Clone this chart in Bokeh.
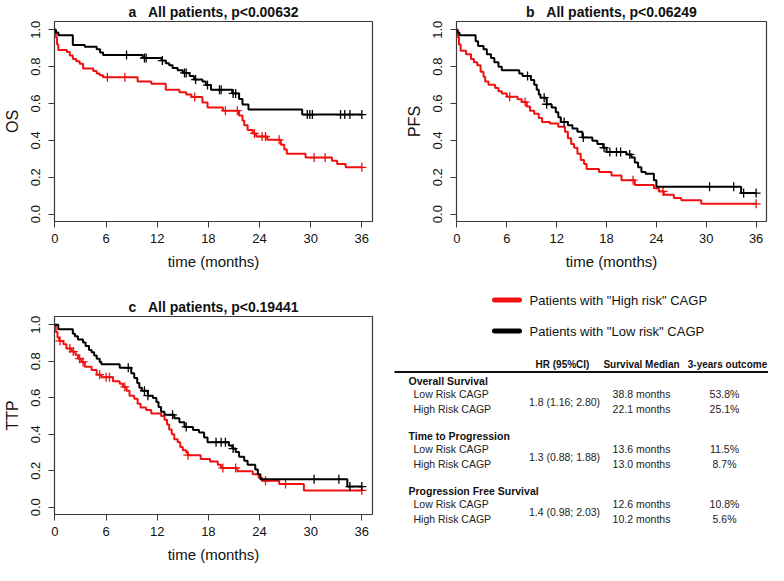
import numpy as np
from bokeh.plotting import figure
from bokeh.layouts import column, row
from bokeh.models import Range1d, FixedTicker
from bokeh.core.properties import value
from bokeh.embed import file_html
from bokeh.resources import INLINE

FONT = "Liberation Sans"
RED = "#f01010"
BLACK = "#000000"
BOX = "#3a3a3a"
NB = "\u00a0"

x_ticks = [0, 6, 12, 18, 24, 30, 36]
y_ticks = [0.0, 0.2, 0.4, 0.6, 0.8, 1.0]
y_tick_labels = ["0.0", "0.2", "0.4", "0.6", "0.8", "1.0"]
t_end = 36.0

# ---------------- (a) Overall survival ----------------
os_low_t = [0, 0.1, 0.4, 2.1, 3.5, 4.9, 5.3, 5.65, 10.3, 12.5, 13.0, 13.4, 13.8, 14.4, 15.0, 15.8,
            16.3, 17.3, 17.7, 18.3, 20.8, 21.6, 22.0, 22.7, 29.0]
os_low_s = [1.0, 0.985, 0.97, 0.917, 0.908, 0.895, 0.877, 0.863, 0.847, 0.833, 0.819, 0.807, 0.793,
            0.78, 0.766, 0.749, 0.73, 0.72, 0.70, 0.675, 0.655, 0.625, 0.595, 0.567, 0.54]
os_low_c = [8.4, 10.5, 10.7, 12.6, 15.2, 15.4, 16.5, 17.9, 19.3, 19.5, 20.9, 21.2, 29.6, 29.9, 30.2,
            33.5, 34.0, 34.6, 36.0]

os_high_t = [0, 0.1, 0.25, 0.4, 1.4, 1.75, 2.1, 2.5, 2.9, 3.3, 4.5, 4.9, 5.25, 5.65, 9.7, 11.3, 13.0,
             14.6, 15.4, 16.0, 17.3, 17.9, 19.7, 21.6, 22.0, 22.2, 22.6, 23.2, 23.6, 24.9, 26.5, 26.9,
             27.2, 29.4, 32.5, 33.1, 34.1]
os_high_s = [1.0, 0.96, 0.92, 0.89, 0.88, 0.86, 0.842, 0.83, 0.816, 0.79, 0.777, 0.763, 0.754, 0.742,
             0.719, 0.707, 0.675, 0.661, 0.649, 0.635, 0.605, 0.579, 0.561, 0.535, 0.508, 0.482, 0.456,
             0.438, 0.421, 0.403, 0.377, 0.351, 0.328, 0.307, 0.289, 0.272, 0.254]
os_high_c = [6.15, 8.2, 16.4, 20.0, 21.4, 23.4, 24.3, 24.7, 26.3, 30.4, 31.7, 36.0]

# ---------------- (b) Progression free survival ----------------
pfs_low_t = [0, 0.05, 0.3, 2.25, 2.55, 3.2, 3.6, 4.1, 4.5, 5.0, 5.4, 7.5, 7.9, 8.9, 9.3, 9.6, 9.85,
             10.05, 10.8, 11.4, 11.9, 12.2, 12.5, 13.35, 13.9, 14.5, 15.1, 16.3, 16.9, 17.6, 18.0,
             20.4, 21.0, 21.4, 21.8, 22.2, 22.7, 23.7, 24.0, 34.2]
pfs_low_s = [1.0, 0.985, 0.97, 0.938, 0.912, 0.895, 0.868, 0.847, 0.824, 0.80, 0.78, 0.763, 0.749,
             0.728, 0.702, 0.675, 0.649, 0.632, 0.596, 0.579, 0.553, 0.526, 0.50, 0.482, 0.465, 0.447,
             0.416, 0.398, 0.38, 0.36, 0.337, 0.324, 0.307, 0.28, 0.254, 0.228, 0.219, 0.184, 0.149,
             0.114]
pfs_low_c = [8.5, 10.5, 10.8, 12.9, 15.2, 17.7, 18.4, 19.2, 19.7, 20.8, 30.4, 33.3, 34.5, 36.0]

pfs_high_t = [0, 0.1, 0.25, 0.45, 1.1, 1.7, 2.05, 2.45, 2.85, 3.2, 3.4, 3.8, 4.6, 5.0, 5.4, 6.0, 7.3,
              7.8, 8.4, 8.8, 9.3, 9.85, 10.25, 11.2, 12.2, 13.0, 13.35, 13.75, 14.1, 14.5, 14.9, 15.3,
              15.6, 17.1, 18.6, 19.8, 21.4, 23.7, 24.3, 24.9, 26.1, 27.0, 29.4]
pfs_high_s = [1.0, 0.96, 0.92, 0.886, 0.868, 0.842, 0.824, 0.807, 0.772, 0.745, 0.719, 0.702, 0.684,
              0.666, 0.654, 0.637, 0.623, 0.608, 0.584, 0.561, 0.544, 0.521, 0.50, 0.491, 0.474, 0.447,
              0.412, 0.38, 0.36, 0.328, 0.293, 0.272, 0.245, 0.228, 0.21, 0.184, 0.158, 0.14, 0.123,
              0.105, 0.087, 0.075, 0.056]
pfs_high_c = [6.35, 8.2, 21.2, 24.8, 36.0]

# ---------------- (c) Time to progression ----------------
ttp_low_t = [0, 0.4, 2.1, 2.35, 2.7, 3.3, 3.6, 4.0, 4.3, 4.6, 4.9, 5.25, 5.45, 7.6, 8.95, 9.3, 9.65,
             9.9, 10.2, 10.9, 11.5, 11.9, 12.15, 12.45, 12.85, 14.0, 14.6, 15.2, 16.2, 16.9, 17.5,
             17.9, 20.4, 20.8, 21.2, 21.6, 22.2, 22.6, 23.5, 23.8, 24.1, 34.3]
ttp_low_s = [1.0, 0.975, 0.95, 0.937, 0.919, 0.902, 0.884, 0.861, 0.849, 0.831, 0.813, 0.796, 0.784,
             0.764, 0.734, 0.708, 0.681, 0.655, 0.638, 0.611, 0.599, 0.576, 0.549, 0.523, 0.506,
             0.488, 0.465, 0.44, 0.423, 0.409, 0.382, 0.356, 0.338, 0.321, 0.303, 0.277, 0.254,
             0.232, 0.206, 0.18, 0.153, 0.113]
ttp_low_c = [8.6, 10.5, 10.9, 13.8, 15.4, 18.9, 19.5, 20.0, 20.9, 30.4, 33.3, 34.6, 36.0]

ttp_high_t = [0, 0.1, 0.3, 0.5, 1.0, 1.35, 1.95, 2.4, 2.7, 3.1, 3.5, 4.3, 4.9, 5.45, 6.8, 7.6, 8.0,
              8.4, 8.75, 9.3, 9.7, 10.05, 10.7, 11.3, 12.45, 12.85, 13.15, 13.4, 13.7, 14.0, 14.4,
              14.7, 15.0, 15.4, 15.6, 17.1, 18.2, 19.1, 19.5, 21.4, 23.2, 23.9, 24.3, 26.3, 29.2]
ttp_high_s = [1.0, 0.96, 0.93, 0.911, 0.893, 0.87, 0.853, 0.835, 0.814, 0.796, 0.77, 0.752, 0.726,
              0.712, 0.69, 0.676, 0.659, 0.638, 0.611, 0.594, 0.567, 0.546, 0.532, 0.514, 0.50, 0.479,
              0.453, 0.426, 0.40, 0.373, 0.356, 0.33, 0.312, 0.30, 0.285, 0.264, 0.25, 0.232, 0.215,
              0.197, 0.18, 0.162, 0.145, 0.127, 0.092]
ttp_high_c = [0.6, 1.75, 2.15, 2.9, 3.3, 5.25, 6.0, 6.4, 8.2, 15.6, 19.7, 21.2, 24.7, 27.05, 36.0]

# ---------------- legend & table ----------------
legend_labels = ['Patients with "High risk" CAGP', 'Patients with "Low risk" CAGP']
legend_colors = [RED, BLACK]

table_headers = ["HR (95%CI)", "Survival Median", "3-years outcome"]
table_sections = ["Overall Survival", "Time to Progression", "Progression Free Survival"]
table_groups = ["Low Risk CAGP", "High Risk CAGP"]
table_hr = ["1.8 (1.16; 2.80)", "1.3 (0.88; 1.88)", "1.4 (0.98; 2.03)"]
table_median = [["38.8 months", "22.1 months"], ["13.6 months", "13.0 months"],
                ["12.6 months", "10.2 months"]]
table_outcome = [["53.8%", "25.1%"], ["11.5%", "8.7%"], ["10.8%", "5.6%"]]

X_RANGE = (-0.05, 37.25)
Y_RANGE = (-0.04, 1.045)


def step_value(t, s, c):
    idx = np.searchsorted(np.asarray(t), np.asarray(c), side="right") - 1
    return np.asarray(s)[idx]


def km_panel(title, ylabel, curves, width, height, left, right, top, bottom):
    p = figure(width=width, height=height, output_backend="svg", toolbar_location=None,
               x_range=Range1d(*X_RANGE), y_range=Range1d(*Y_RANGE),
               min_border_left=left, min_border_right=right, min_border_top=top,
               min_border_bottom=bottom, background_fill_color="white",
               border_fill_color="white")
    p.title.text = title
    p.title.align = "center"
    p.title.text_font = FONT
    p.title.text_font_size = "14px"
    p.title.text_font_style = "bold"
    p.title.text_color = "#111111"
    p.title.standoff = 3
    p.grid.visible = False
    p.outline_line_color = BOX
    p.outline_line_width = 1.2
    p.outline_line_alpha = 1.0
    for ax in (p.xaxis[0], p.yaxis[0]):
        ax.axis_line_color = None
        ax.major_tick_line_color = BOX
        ax.major_tick_line_width = 1
        ax.major_tick_out = 6
        ax.major_tick_in = 0
        ax.minor_tick_line_color = None
        ax.major_label_text_font = FONT
        ax.major_label_text_font_size = "13px"
        ax.major_label_text_color = "#111111"
        ax.axis_label_text_font = FONT
        ax.axis_label_text_font_style = "normal"
        ax.axis_label_text_color = "#111111"
    p.xaxis.ticker = FixedTicker(ticks=x_ticks)
    p.yaxis.ticker = FixedTicker(ticks=y_ticks)
    p.yaxis.major_label_overrides = {v: l for v, l in zip(y_ticks, y_tick_labels)}
    p.yaxis.major_label_orientation = "vertical"
    p.xaxis.axis_label = "time (months)"
    p.xaxis.axis_label_text_font_size = "15px"
    p.xaxis.major_label_standoff = 6
    p.xaxis.axis_label_standoff = 7
    p.yaxis.axis_label = ylabel
    p.yaxis.axis_label_text_font_size = "16px"
    p.yaxis.major_label_standoff = 8
    p.yaxis.axis_label_standoff = 8

    for t, s, cens, color in curves:
        tt = list(t) + [t_end]
        ss = list(s) + [s[-1]]
        p.step(tt, ss, mode="after", line_color=color, line_width=2)
        cy = step_value(t, s, cens)
        p.scatter(cens, cy, marker="cross", size=9, line_color=color, line_width=1.3)
    return p


W1, W2 = 378, 390
H1, H2 = 282, 283

pa = km_panel("a" + NB * 3 + "All patients, p<0.00632", "OS",
              [(os_high_t, os_high_s, os_high_c, RED), (os_low_t, os_low_s, os_low_c, BLACK)],
              W1, H1, 53, 6, 18, 61)
pb = km_panel("b" + NB * 3 + "All patients, p<0.06249", "PFS",
              [(pfs_high_t, pfs_high_s, pfs_high_c, RED), (pfs_low_t, pfs_low_s, pfs_low_c, BLACK)],
              W2, H1, 78, 2, 18, 61)
pc = km_panel("c" + NB * 3 + "All patients, p<0.19441", "TTP",
              [(ttp_high_t, ttp_high_s, ttp_high_c, RED), (ttp_low_t, ttp_low_s, ttp_low_c, BLACK)],
              W1, H2, 53, 6, 34, 48)

# ---------------- panel d: legend + table ----------------
pd_ = figure(width=W2, height=H2, output_backend="svg", toolbar_location=None,
             x_range=Range1d(0, W2), y_range=Range1d(H2, 0), x_axis_type=None, y_axis_type=None,
             min_border=0, min_border_left=0, min_border_right=0, min_border_top=0,
             min_border_bottom=0)
pd_.grid.visible = False
pd_.outline_line_color = None

leg_y0, leg_dy = 17.5, 31
for i, (lab, col) in enumerate(zip(legend_labels, legend_colors)):
    yy = leg_y0 + i * leg_dy
    pd_.segment(x0=[116], y0=[yy], x1=[141], y1=[yy], line_color=col, line_width=5,
                line_cap="round")
    pd_.text(x=[151], y=[yy], text=[lab], text_font=value(FONT), text_font_size="13px",
             text_baseline="middle", text_align="left", text_color="#111111")

col_x = [184, 263, 349]
header_y = 81.5
pd_.text(x=col_x, y=[header_y] * 3, text=table_headers, text_font=value(FONT),
         text_font_size="10px", text_font_style="bold", text_baseline="middle",
         text_align="center", text_color="#111111")
pd_.segment(x0=[16], y0=[89.5], x1=[W2], y1=[89.5], line_color="#111111", line_width=2)

block_y0, block_dy = 98, 55
for b, sec in enumerate(table_sections):
    by = block_y0 + b * block_dy
    pd_.text(x=[30], y=[by], text=[sec], text_font=value(FONT), text_font_size="10.5px",
             text_font_style="bold", text_baseline="middle", text_align="left",
             text_color="#111111")
    rows_y = [by + 13.8, by + 28.2]
    pd_.text(x=[35, 35], y=rows_y, text=table_groups, text_font=value(FONT),
             text_font_size="10.5px", text_baseline="middle", text_align="left",
             text_color="#222222")
    pd_.text(x=[col_x[0] + 2], y=[by + 21], text=[table_hr[b]], text_font=value(FONT),
             text_font_size="10.5px", text_baseline="middle", text_align="center",
             text_color="#222222")
    pd_.text(x=[col_x[1]] * 2, y=rows_y, text=table_median[b], text_font=value(FONT),
             text_font_size="10.5px", text_baseline="middle", text_align="center",
             text_color="#222222")
    pd_.text(x=[col_x[2] - 3] * 2, y=rows_y, text=table_outcome[b], text_font=value(FONT),
             text_font_size="10.5px", text_baseline="middle", text_align="center",
             text_color="#222222")

layout = column(row(pa, pb), row(pc, column(pd_)))
open("out.html", "w").write(file_html(layout, INLINE))
